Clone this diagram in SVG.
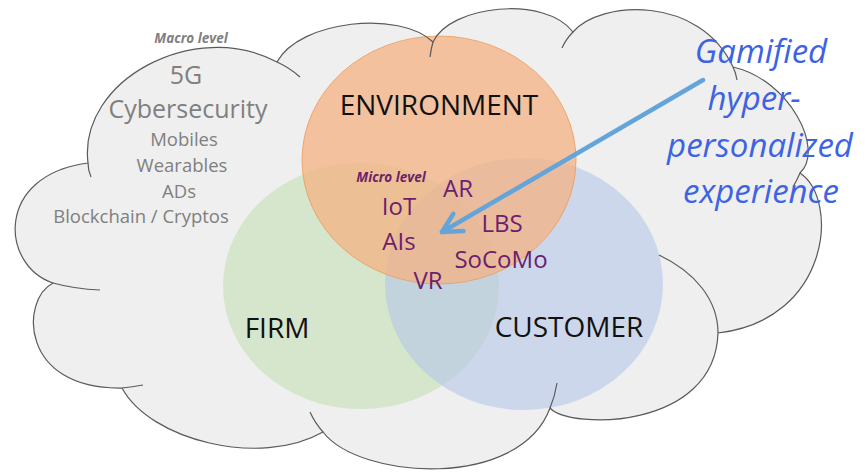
<svg xmlns="http://www.w3.org/2000/svg" width="865" height="473" viewBox="0 0 865 473">
<style>
  text { font-family: "Open Sans", "DejaVu Sans", sans-serif; text-anchor: middle; }
  .macro { fill: #7f7f7f; }
  .lvl { font-size: 13.5px; font-weight: bold; font-style: italic; }
  .big { font-size: 25px; }
  .mid { font-size: 18.5px; }
  .main { fill: #111; font-size: 28px; }
  .tech { fill: #6b1f6e; font-size: 24px; }
  .gam { fill: #3d63e2; font-size: 33px; font-style: italic; }
  .outline { fill: none; stroke: #5a5a5a; stroke-width: 1.2; }
</style>
<defs>
  <marker id="ah" markerUnits="userSpaceOnUse" markerWidth="30" markerHeight="30" viewBox="-25 -15 30 30" refX="0" refY="0" orient="auto" overflow="visible">
    <path d="M-19,-10 L0,0 L-19,10" fill="none" stroke="#63a5da" stroke-width="4.5" stroke-linecap="round" stroke-linejoin="round"/>
  </marker>
</defs>
<rect width="865" height="473" fill="#ffffff"/>
<g id="cloud">
  <path id="cloud-shape" fill="#efefef" d="M88,163 C78,80 195,18 277,62 C300,20 400,10 433,42 C450,5 545,-5 573,32 C600,0 700,-5 733,67 C790,80 825,150 800,173 C840,200 830,320 718,333 C715,430 570,430 550,408 C520,490 360,480 323,432 C260,468 150,440 122,388 C20,390 20,300 53,283 C0,265 -5,175 88,163 Z"/>
</g>
<g id="firm">
  <ellipse cx="361" cy="286" rx="138" ry="123" fill="#c5e0b4" fill-opacity="0.6"/>
</g>
<g id="customer">
  <ellipse cx="524" cy="284" rx="139" ry="126" fill="#b4c7e7" fill-opacity="0.6"/>
</g>
<g id="environment">
  <ellipse cx="439" cy="160" rx="137" ry="124" fill="#f4b183" fill-opacity="0.75" stroke="#ec9a5a" stroke-width="0.8"/>
</g>
<g id="cloud-outline" class="outline">
  <path d="M88,163 C78,80 195,18 277,62 C300,20 400,10 433,42 C450,5 545,-5 573,32 C600,0 700,-5 733,67 C790,80 825,150 800,173 C840,200 830,320 718,333 C715,430 570,430 550,408 C520,490 360,480 323,432 C260,468 150,440 122,388 C20,390 20,300 53,283 C0,265 -5,175 88,163 Z"/>
  <path d="M91,177 Q88,170 88,163 M277,62 Q290,68 300,77 M430,57 Q431,49 433,42 M562,48 Q566,39 573,32 M733,67 Q736,73 737,80 M800,173 Q797,180 793,187 M718,333 C718,300 695,272 659,255 M550,408 Q555,396 557,383 M310,412 Q315,423 323,432 M122,388 Q132,387 143,385 M53,283 Q75,289 100,290"/>
</g>
<g id="macro-text" class="macro">
  <text class="lvl" x="191" y="43">Macro level</text>
  <text class="big" x="186" y="84">5G</text>
  <text class="big" x="188" y="118">Cybersecurity</text>
  <text class="mid" x="184" y="146">Mobiles</text>
  <text class="mid" x="182" y="172">Wearables</text>
  <text class="mid" x="179" y="198">ADs</text>
  <text class="mid" x="141" y="223">Blockchain / Cryptos</text>
</g>
<g id="labels">
  <text class="main" x="439" y="115">ENVIRONMENT</text>
  <text class="main" x="277" y="338">FIRM</text>
  <text class="main" x="569" y="337">CUSTOMER</text>
</g>
<g id="micro-text" class="tech">
  <text class="lvl" x="391" y="182">Micro level</text>
  <text x="458" y="197">AR</text>
  <text x="399" y="215">IoT</text>
  <text x="399" y="250">AIs</text>
  <text x="502" y="232">LBS</text>
  <text x="501" y="268">SoCoMo</text>
  <text x="428" y="289">VR</text>
</g>
<g id="connectors">
  <path d="M703,80 L442,232" fill="none" stroke="#63a5da" stroke-width="4.5" stroke-linecap="round" marker-end="url(#ah)"/>
</g>
<g id="gamified" class="gam">
  <text x="761" y="63">Gamified</text>
  <text x="754" y="110">hyper-</text>
  <text x="760" y="157">personalized</text>
  <text x="761" y="203">experience</text>
</g>
</svg>
